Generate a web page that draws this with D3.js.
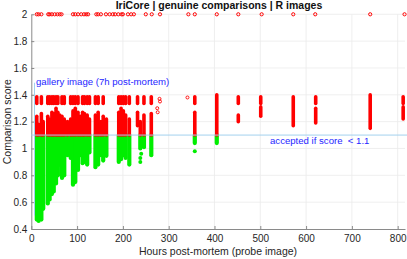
<!DOCTYPE html>
<meta charset="utf-8">
<html>
<head>
<script src="https://d3js.org/d3.v7.min.js"></script>
<style>
  body { margin: 0; background: white; }
  text { font-family: "Liberation Sans", Arial, sans-serif; }
</style>
</head>
<body>
<script>
  var width = 407, height = 259;

  // columns of genuine comparisons: hour, lowest score, highest score (main cluster)
  var hours    = [12, 16, 22, 26, 36, 40, 45, 49, 54, 58, 62, 67, 72, 79, 86, 91, 96, 102, 107, 112, 116, 122, 127, 140, 146, 152, 157, 164, 191, 196, 201, 206, 214, 232, 238, 246, 262, 357, 405, 452, 501, 572, 621, 740, 812];
  var scoreMin = [0.47, 0.46, 0.47, 0.55, 0.59, 0.62, 0.66, 0.68, 0.74, 0.80, 0.88, 0.78, 0.80, 0.95, 0.93, 0.73, 0.75, 0.84, 0.95, 0.89, 0.90, 0.88, 0.97, 0.86, 0.88, 0.95, 0.91, 0.945, 0.90, 0.92, 0.95, 0.93, 0.88, 1.17, 1.0, 1.01, 0.95, 1.04, 1.04, 1.20, 1.24, 1.17, 1.19, 1.15, 1.22];
  var scoreMax = [1.24, 1.18, 1.26, 1.20, 1.24, 1.22, 1.27, 1.26, 1.30, 1.27, 1.25, 1.24, 1.22, 1.20, 1.22, 1.28, 1.30, 1.27, 1.24, 1.27, 1.26, 1.25, 1.22, 1.25, 1.27, 1.20, 1.24, 1.22, 1.27, 1.30, 1.28, 1.25, 1.22, 1.27, 1.20, 1.25, 1.26, 1.27, 1.40, 1.25, 1.31, 1.385, 1.30, 1.40, 1.31];
  // 1 = column also has the upper band of scores
  var hasBand  = [1, 0, 1, 0, 1, 1, 1, 1, 1, 1, 0, 1, 1, 0, 1, 1, 1, 1, 0, 1, 1, 1, 1, 1, 1, 0, 1, 0, 1, 1, 1, 1, 1, 1, 0, 1, 1, 1, 0, 1, 1, 0, 1, 0, 1];
  var band = [1.335, 1.385];

  // single comparisons off the columns
  var extraHours  = [238, 238, 240, 275, 276, 280, 281, 341, 357];
  var extraScores = [0.90, 0.93, 0.96, 1.30, 1.27, 1.37, 1.35, 1.38, 0.98];

  // failed comparisons (score 2)
  var failHours = [12, 16, 22, 37, 40, 45, 51, 57, 62, 66, 91, 96, 102, 109, 115, 120, 124, 142, 146, 152, 163, 171, 178, 183, 190, 197, 200, 211, 218, 224, 250, 263, 281, 343, 357, 405, 452, 503, 572, 620, 740, 815];

  var threshold = 1.1;
  var galleryHour = 7;
  var xTicks = d3.range(0, 801, 100);
  var yTicks = [0.4, 0.6, 0.8, 1, 1.2, 1.4, 1.6, 1.8, 2];

  var red = "#ff0000", green = "#00ee00", lineBlue = "#a3d2ee", textBlue = "#2626ff";

  var x = d3.scaleLinear().domain([0, 816]).range([31.3, 405]);
  var y = d3.scaleLinear().domain([0.4, 2]).range([229, 14.3]);

  var svg = d3.select("body").append("svg")
    .attr("width", width).attr("height", height);

  // grid
  svg.append("g").selectAll("line").data(xTicks.slice(1)).join("line")
    .attr("x1", d => x(d)).attr("x2", d => x(d))
    .attr("y1", y(2)).attr("y2", y(0.4))
    .attr("stroke", "#ebebeb").attr("stroke-width", 0.8);
  svg.append("g").selectAll("line").data(yTicks.slice(1)).join("line")
    .attr("x1", x(0)).attr("x2", 405)
    .attr("y1", d => y(d)).attr("y2", d => y(d))
    .attr("stroke", "#ebebeb").attr("stroke-width", 0.8);

  // axes
  var xAxis = svg.append("g")
    .attr("transform", `translate(0,${y(0.4)})`)
    .call(d3.axisBottom(x).tickValues(xTicks).tickSizeInner(-3).tickSizeOuter(0).tickPadding(6).tickFormat(d3.format("d")));
  var yAxis = svg.append("g")
    .attr("transform", `translate(${x(0)},0)`)
    .call(d3.axisLeft(y).tickValues(yTicks).tickSizeInner(-3).tickSizeOuter(0).tickPadding(4).tickFormat(d => d3.format("")(d)));
  [xAxis, yAxis].forEach(function(a){
    a.select(".domain").attr("stroke", "#8a8a8a");
    a.selectAll(".tick line").attr("stroke", "#8a8a8a");
    a.selectAll(".tick text").attr("fill", "#262626").style("font-size", "10px")
      .style("font-family", "'Liberation Sans', Arial, sans-serif");
  });

  var cols = hours.map((h, i) => ({h: h, lo: scoreMin[i], hi: scoreMax[i], band: hasBand[i]}));

  // green part (accepted)
  svg.append("g").selectAll("line").data(cols.filter(d => d.lo < threshold)).join("line")
    .attr("x1", d => x(d.h)).attr("x2", d => x(d.h))
    .attr("y1", d => y(d.lo)).attr("y2", d => y(Math.min(d.hi, threshold)))
    .attr("stroke", green).attr("stroke-width", 4.2).attr("stroke-linecap", "round");

  // red part (rejected)
  svg.append("g").selectAll("line").data(cols.filter(d => d.hi > threshold)).join("line")
    .attr("x1", d => x(d.h)).attr("x2", d => x(d.h))
    .attr("y1", d => y(Math.max(d.lo, threshold))).attr("y2", d => y(d.hi))
    .attr("stroke", red).attr("stroke-width", 3.6).attr("stroke-linecap", "round");

  svg.append("g").selectAll("line").data(cols.filter(d => d.band)).join("line")
    .attr("x1", d => x(d.h)).attr("x2", d => x(d.h))
    .attr("y1", y(band[0])).attr("y2", y(band[1]))
    .attr("stroke", red).attr("stroke-width", 3.6).attr("stroke-linecap", "round");

  var extras = extraHours.map((h, i) => ({h: h, s: extraScores[i]}));
  svg.append("g").selectAll("circle").data(extras).join("circle")
    .attr("cx", d => x(d.h)).attr("cy", d => y(d.s))
    .attr("r", d => d.s < threshold ? 2 : 1.5)
    .attr("fill", d => d.s < threshold ? green : "none")
    .attr("stroke", d => d.s < threshold ? "none" : red)
    .attr("stroke-width", 0.9);

  svg.append("g").selectAll("circle").data(failHours).join("circle")
    .attr("cx", d => x(d)).attr("cy", y(2))
    .attr("r", 1.6).attr("fill", "none")
    .attr("stroke", red).attr("stroke-width", 1);

  // threshold and gallery lines
  svg.append("line")
    .attr("x1", x(0)).attr("x2", 407)
    .attr("y1", y(threshold)).attr("y2", y(threshold))
    .attr("stroke", lineBlue).attr("stroke-width", 1);
  svg.append("line")
    .attr("x1", x(galleryHour)).attr("x2", x(galleryHour))
    .attr("y1", y(0.5)).attr("y2", y(1.49))
    .attr("stroke", lineBlue).attr("stroke-width", 1);

  svg.append("text")
    .attr("x", 36).attr("y", 84.5)
    .style("font-size", "9.6px").attr("fill", textBlue)
    .text("gallery image (7h post-mortem)");

  svg.append("text")
    .attr("x", 270).attr("y", 143.5)
    .style("font-size", "9.6px").attr("fill", textBlue)
    .style("white-space", "pre")
    .text("accepted if score  < 1.1");

  // title and labels
  svg.append("text")
    .attr("x", 219).attr("y", 8.5)
    .attr("text-anchor", "middle")
    .style("font-size", "10.5px").style("font-weight", "bold").attr("fill", "#111")
    .text("IriCore | genuine comparisons | R images");

  svg.append("text")
    .attr("x", 218).attr("y", 255)
    .attr("text-anchor", "middle")
    .style("font-size", "10.5px").attr("fill", "#262626")
    .text("Hours post-mortem (probe image)");

  svg.append("text")
    .attr("transform", `translate(11,${(y(2) + y(0.4)) / 2}) rotate(-90)`)
    .attr("text-anchor", "middle")
    .style("font-size", "10.5px").attr("fill", "#262626")
    .text("Comparison score");
</script>
</body>
</html>
